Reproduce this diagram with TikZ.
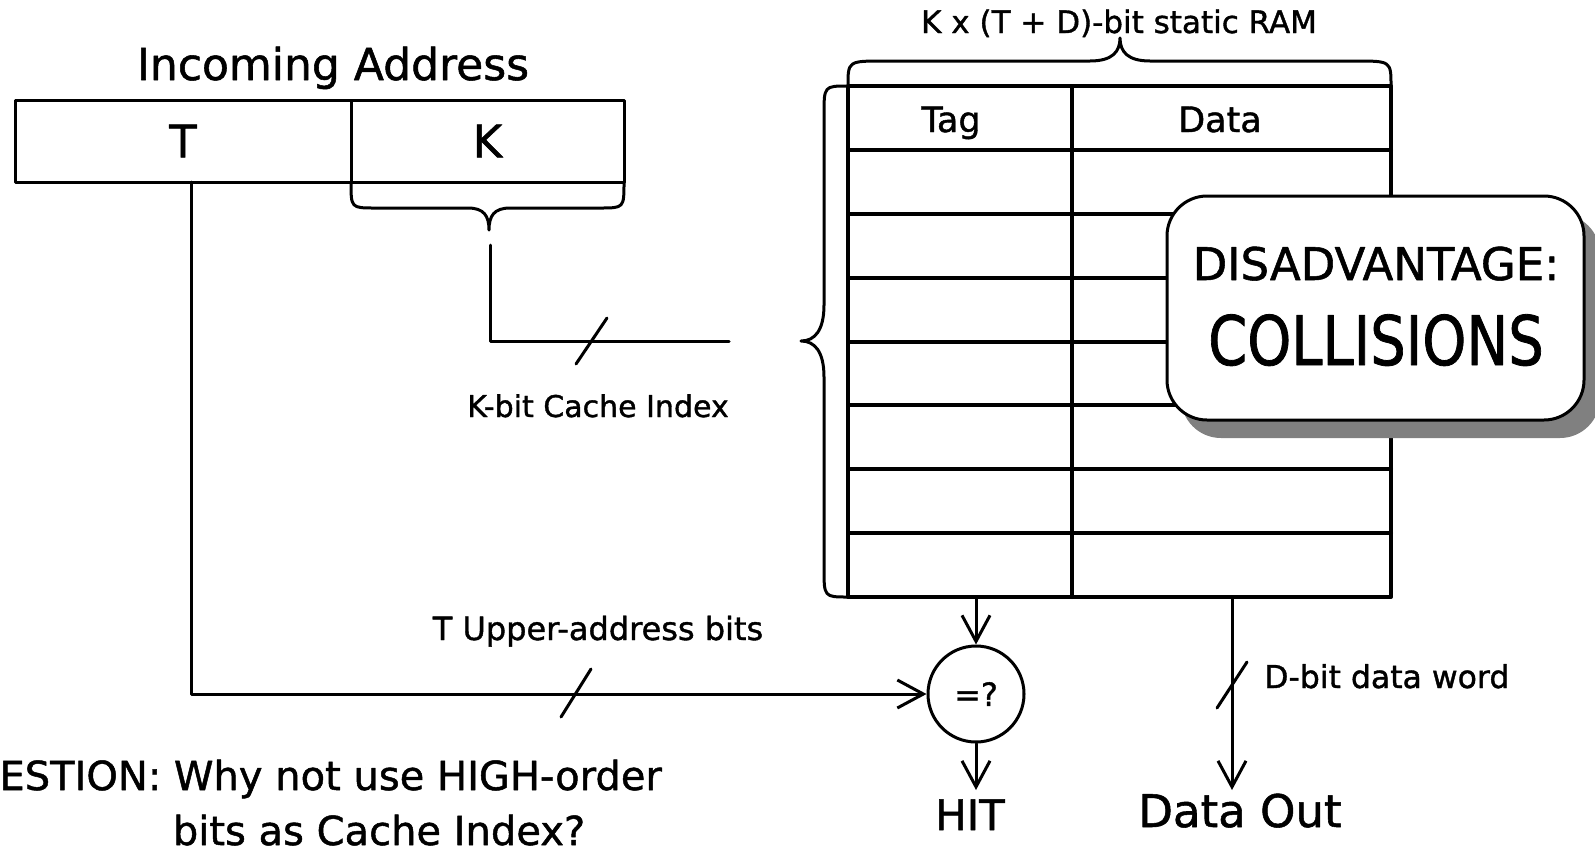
\documentclass[tikz,border=0pt]{standalone}
\usepackage{fontspec}
\setmainfont[FakeBold=1.2]{DejaVu Sans}
\usetikzlibrary{arrows.meta}
\newcommand\setfs[1]{\fontsize{#1}{#1}\selectfont}
\definecolor{shadowgray}{HTML}{808080}
\begin{document}
\begin{tikzpicture}[x=1pt,y=-1pt, line cap=round, line join=round,
  wire/.style={line width=3pt},
  grid/.style={line width=4pt},
  arr/.style={wire, -{Straight Barb[length=26pt,width=28pt,line width=3pt]}},
  lbl/.style={inner sep=0pt, anchor=base},
  cell/.style={draw, line width=3pt, inner sep=0pt, minimum height=82pt}]
\useasboundingbox (0,0) rectangle (1595,852);

% incoming address split into tag and index fields
\node[lbl] (title) at (333,80) {\setfs{44}Incoming Address};
\node[cell, minimum width=336pt] (addrT) at (183,141) {\setfs{45}T};
\node[cell, minimum width=273pt] (addrK) at (487.5,141) {\setfs{45}K};

% brace under the index field
\draw[wire] (351,182) .. controls (351,208) .. (375,208) -- (468,208)
  .. controls (484,208) and (489,216) .. (489,230)
  .. controls (489,216) and (494,208) .. (510,208) -- (600,208)
  .. controls (624,208) .. (624,182);

% index bus into the RAM
\coordinate (kstart) at (490,245);
\coordinate (kend) at (729,341);
\draw[wire] (kstart) |- (kend);
\draw[wire] (576,364) -- (607,318);
\node[lbl] (kidx) at (598,417) {\setfs{30}K-bit Cache Index};

% static RAM array
\node[draw, line width=4pt, minimum width=543pt, minimum height=511pt, inner sep=0pt] (ram) at (1119.5,341.5) {};
\draw[grid] (1072,86) -- (1072,597);
\foreach \i in {1,...,7}
  \draw[grid] (848,{86+63.875*\i}) -- (1391,{86+63.875*\i});
\node[lbl] (tag) at (951,132) {\setfs{35}Tag};
\node[lbl] (data) at (1220,132) {\setfs{35}Data};

% brace over the RAM width
\draw[wire] (848,86) .. controls (848,61) .. (884,61) -- (1090,61)
  .. controls (1112,61) and (1120,52) .. (1120,38)
  .. controls (1120,52) and (1128,61) .. (1150,61) -- (1355,61)
  .. controls (1391,61) .. (1391,86);
\node[lbl] (ramlbl) at (1119,33) {\setfs{31}K x (T + D)-bit static RAM};

% brace over the RAM rows
\draw[wire] (848,86) .. controls (824,86) .. (824,115) -- (824,305)
  .. controls (824,330) and (815,341) .. (801,341)
  .. controls (815,341) and (824,352) .. (824,377) -- (824,568)
  .. controls (824,597) .. (848,597);

% callout
\fill[shadowgray, rounded corners=40pt] (1181,214) rectangle (1600,438);
\node[draw, fill=white, line width=3pt, rounded corners=40pt, minimum width=417pt, minimum height=224pt, inner sep=0pt] (callout) at (1375.5,308) {};
\node[lbl] (dis) at (1376,280) {\setfs{45}DISADVANTAGE:};
\node[lbl] (col) at (1376,365) {\scalebox{1}[1.22]{\setfs{56}COLLISIONS}};

% tag comparator
\node[draw, circle, line width=3pt, minimum size=96pt, inner sep=0pt] (cmp) at (976,694) {\setfs{32}=?};
\draw[arr] (cmp.north |- ram.south) -- (cmp.north);
\coordinate (hitin) at (976,790);
\draw[arr] (cmp.south) -- (hitin);
\node[lbl] (hit) at (970,830) {\setfs{42}HIT};

% data output
\coordinate (dout) at (1232,790);
\draw[arr] (ram.south -| dout) -- (dout);
\draw[wire] (1217,708) -- (1247,662);
\node[lbl, anchor=base west] (dword) at (1264,688) {\setfs{31.5}D-bit data word};
\node[lbl] (dataout) at (1240,827) {\setfs{45}Data Out};

% upper address bits to the comparator
\coordinate (tstart) at (191,182);
\draw[arr] (tstart) |- (cmp.west);
\draw[wire] (561,717) -- (591,669);
\node[lbl] (tup) at (598,640) {\setfs{32}T Upper-address bits};

% question
\node[lbl, anchor=base east] (q1) at (662,790) {\setfs{40}ESTION: Why not use HIGH-order};
\node[lbl] (q2) at (379,845) {\setfs{40}bits as Cache Index?};
\end{tikzpicture}
\end{document}
